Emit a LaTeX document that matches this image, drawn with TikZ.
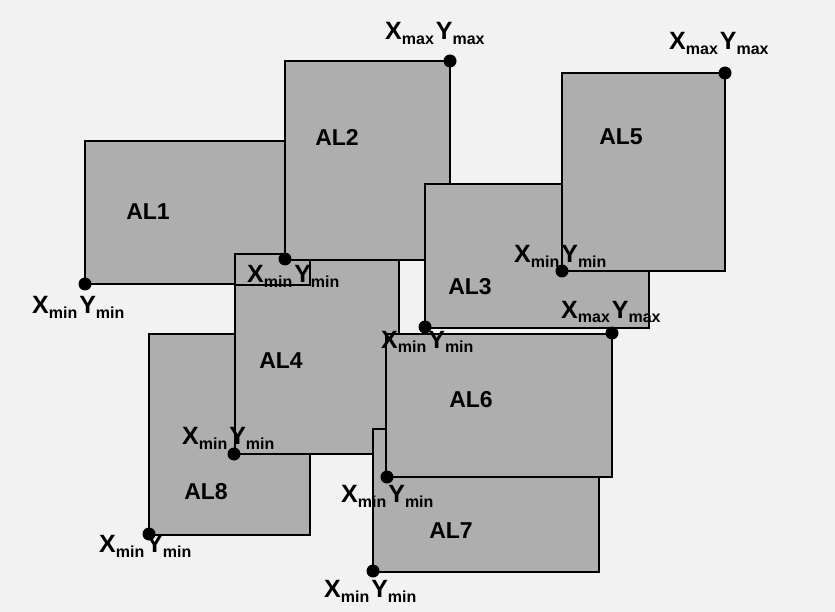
\documentclass[tikz,border=0pt]{standalone}
\usepackage{fontspec}
\setmainfont{Liberation Sans}
\newcommand\subl[1]{\raisebox{-5pt}{\fontsize{16}{16}\selectfont\bfseries #1}}
\newcommand\corner[1]{X\subl{#1}\hspace{2pt}Y\subl{#1}}
\definecolor{bgcol}{RGB}{242,242,242}
\definecolor{boxgray}{RGB}{174,174,174}
\begin{document}
\begin{tikzpicture}[x=1pt,y=-1pt,
  box/.style={fill=boxgray,draw=black,line width=2.8pt},
  thinline/.style={draw=black,line width=2.3pt},
  dot/.style={circle,fill=black,inner sep=0pt,minimum size=13pt},
  al/.style={font=\fontsize{23}{23}\selectfont\bfseries,inner sep=0pt},
  cl/.style={font=\fontsize{25}{25}\selectfont\bfseries,inner sep=0pt,anchor=base west}]
\fill[bgcol] (0,0) rectangle (835,612);
\useasboundingbox (0,0) rectangle (835,612);
% rectangles in drawing order
\path[box] (85,141) rectangle (285,284);
\path[box] (149,334) rectangle (310,535);
\path[box] (235,254) rectangle (399,454);
\draw[thinline] (235,285) -- (310,285) -- (310,260);
\path[box] (285,61) rectangle (450,260);
\path[box] (425,184) rectangle (649,328);
\path[box] (562,73) rectangle (725,271);
\path[box] (373,429) rectangle (599,572);
\path[box] (386,334) rectangle (612,477);
% area names
\node[al] (al1) at (148,212) {AL1};
\node[al] (al2) at (337,137) {AL2};
\node[al] (al3) at (470,287) {AL3};
\node[al] (al4) at (281,361) {AL4};
\node[al] (al5) at (621,137) {AL5};
\node[al] (al6) at (471,400) {AL6};
\node[al] (al7) at (451,531) {AL7};
\node[al] (al8) at (206,492) {AL8};
% corner dots
\node[dot] (d1) at (85,284) {};
\node[dot] (d2) at (285,259) {};
\node[dot] (d3) at (450,61) {};
\node[dot] (d4) at (725,73) {};
\node[dot] (d5) at (562,271) {};
\node[dot] (d6) at (425,327) {};
\node[dot] (d7) at (612,333) {};
\node[dot] (d8) at (234,454) {};
\node[dot] (d9) at (387,477) {};
\node[dot] (d10) at (149,534) {};
\node[dot] (d11) at (373,571) {};
% corner labels
\node[cl] (c3) at (385,40) {\corner{max}};
\node[cl] (c4) at (669,50) {\corner{max}};
\node[cl] (c1) at (32,313) {\corner{min}};
\node[cl] (c2) at (247,283) {\corner{min}};
\node[cl] (c5) at (514,263) {\corner{min}};
\node[cl] (c6) at (381,348) {\corner{min}};
\node[cl] (c7) at (561,318) {\corner{max}};
\node[cl] (c8) at (182,444) {\corner{min}};
\node[cl] (c9) at (341,502) {\corner{min}};
\node[cl] (c10) at (99,552) {\corner{min}};
\node[cl] (c11) at (324,597) {\corner{min}};
\end{tikzpicture}
\end{document}
